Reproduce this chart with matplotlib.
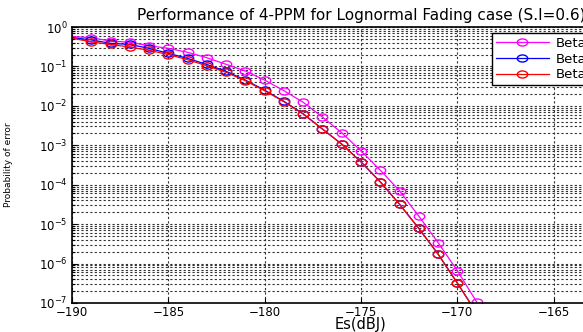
import numpy as np
import matplotlib.pyplot as plt
from matplotlib.path import Path

# Es in dBJ, one point per dB
es = np.arange(-190, -168)

# values
pe_magenta = [0.57, 0.535, 0.44, 0.41, 0.335, 0.288, 0.228, 0.166, 0.113, 0.0764,
              0.045, 0.0242, 0.0123, 0.0052, 0.00207, 7.2e-4, 2.34e-4, 7.0e-5,
              1.6e-5, 3.4e-6, 6.6e-7, 1.07e-7]
pe_blue = [0.54, 0.47, 0.386, 0.36, 0.288, 0.215, 0.16, 0.112, 0.075, 0.045,
           0.025, 0.013, 0.0063, 2.58e-3, 1.07e-3, 3.8e-4, 1.18e-4, 3.2e-5,
           7.8e-6, 1.74e-6, 3.2e-7, 5.6e-8]
pe_red = [0.52, 0.42, 0.36, 0.31, 0.256, 0.2, 0.148, 0.104, 0.0708, 0.0434,
          0.0242, 0.0127, 0.0062, 2.58e-3, 1.07e-3, 3.8e-4, 1.18e-4, 3.2e-5,
          7.8e-6, 1.74e-6, 3.2e-7, 5.6e-8]
labels = ['Beta=0.5', 'Beta=1.0', 'Beta=1.5']

plt.rcParams['font.family'] = 'DejaVu Sans'

# the circles in the original look squashed, use a flat ellipse marker
circ = Path.unit_circle()
ellipse = Path(circ.vertices * [1.0, 0.68], circ.codes)

fig = plt.figure(figsize=(5.83, 3.32), dpi=100)
# axes run past the right edge like the cropped original
ax = fig.add_axes([72/583, 29/332, 578/583, 276/332])

style = dict(lw=0.9, ms=7.5, mfc='none', mew=1.0, marker=ellipse,
             markevery=slice(1, None))
ax.semilogy(es, pe_magenta, color=(1, 0, 1), label=labels[0], **style)
ax.semilogy(es, pe_blue, color=(0, 0, 1), label=labels[1], **style)
ax.semilogy(es, pe_red, color=(1, 0, 0), label=labels[2], **style)

ax.set_xlim(-190, -160)
ax.set_ylim(1e-7, 1)
ax.set_xticks(np.arange(-190, -159, 5))
ax.grid(True, which='major', axis='both', ls=(0, (2, 2)), color='0.2', lw=0.8)
ax.grid(True, which='minor', axis='y', ls=(0, (2, 2)), color='0.2', lw=0.8)
ax.tick_params(which='both', direction='in', labelsize=8.5, width=0.8)
ax.tick_params(axis='x', pad=2)
ax.tick_params(axis='y', pad=3)
for s in ax.spines.values():
    s.set_linewidth(1.2)

ax.set_title('Performance of 4-PPM for Lognormal Fading case (S.I=0.6)',
             fontsize=11, pad=5)
ax.set_xlabel('Es(dBJ)', fontsize=10.5, labelpad=-1)
ax.set_ylabel('Probability of error', fontsize=6.5)
ax.yaxis.set_label_coords(-0.102, 0.5)

ax.legend(loc='upper left', bbox_to_anchor=(0.7266, 0.978), borderaxespad=0,
          fontsize=9.5, handlelength=4, handletextpad=0.5, borderpad=0.3,
          labelspacing=0.2, fancybox=False, edgecolor='k', framealpha=1)

plt.savefig('out.png', dpi=100)
